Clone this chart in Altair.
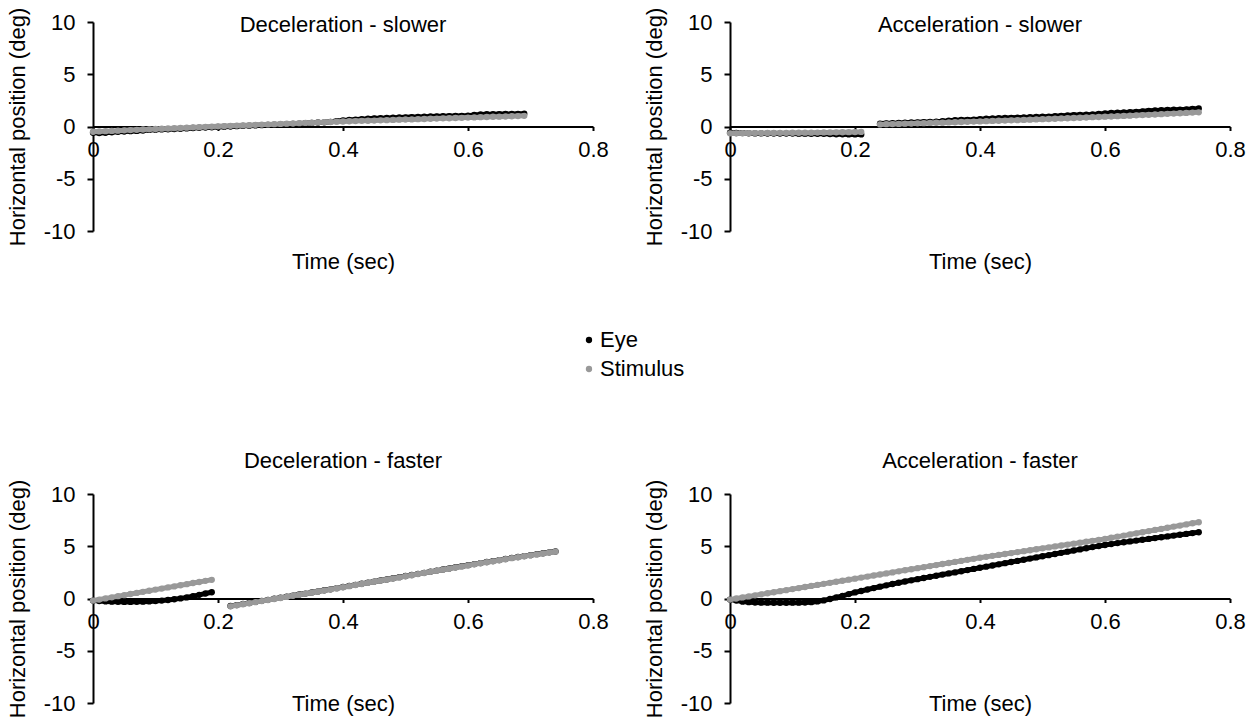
import altair as alt
import pandas as pd

FONT = "Liberation Sans"
FS = 22

# shared sampling grid (seconds)
TIME = [0.00, 0.01, 0.02, 0.03, 0.04, 0.05, 0.06, 0.07, 0.08, 0.09,
        0.10, 0.11, 0.12, 0.13, 0.14, 0.15, 0.16, 0.17, 0.18, 0.19,
        0.20, 0.21, 0.22, 0.23, 0.24, 0.25, 0.26, 0.27, 0.28, 0.29,
        0.30, 0.31, 0.32, 0.33, 0.34, 0.35, 0.36, 0.37, 0.38, 0.39,
        0.40, 0.41, 0.42, 0.43, 0.44, 0.45, 0.46, 0.47, 0.48, 0.49,
        0.50, 0.51, 0.52, 0.53, 0.54, 0.55, 0.56, 0.57, 0.58, 0.59,
        0.60, 0.61, 0.62, 0.63, 0.64, 0.65, 0.66, 0.67, 0.68, 0.69,
        0.70, 0.71, 0.72, 0.73, 0.74, 0.75]

N = None

# Deceleration - slower
DS_EYE = [-0.60, -0.62, -0.60, -0.55, -0.50, -0.48, -0.45, -0.42, -0.38, -0.33,
          -0.30, -0.28, -0.27, -0.25, -0.22, -0.18, -0.14, -0.12, -0.10, -0.08,
          -0.05, -0.02, 0.00, 0.03, 0.06, 0.08, 0.10, 0.13, 0.16, 0.18,
          0.20, 0.22, 0.25, 0.28, 0.32, 0.35, 0.38, 0.40, 0.45, 0.52,
          0.58, 0.62, 0.66, 0.70, 0.74, 0.78, 0.80, 0.82, 0.84, 0.86,
          0.88, 0.90, 0.92, 0.94, 0.96, 0.97, 0.98, 1.00, 1.01, 1.02,
          1.04, 1.10, 1.15, 1.17, 1.18, 1.19, 1.20, 1.20, 1.21, 1.22,
          N, N, N, N, N, N]
DS_STIM = [-0.50, -0.47, -0.45, -0.42, -0.40, -0.37, -0.34, -0.32, -0.29, -0.27,
           -0.24, -0.21, -0.19, -0.16, -0.14, -0.11, -0.08, -0.06, -0.03, -0.01,
           0.02, 0.04, 0.06, 0.09, 0.11, 0.13, 0.16, 0.18, 0.20, 0.22,
           0.25, 0.27, 0.29, 0.32, 0.34, 0.36, 0.39, 0.41, 0.43, 0.46,
           0.48, 0.50, 0.52, 0.54, 0.55, 0.57, 0.59, 0.61, 0.63, 0.65,
           0.67, 0.68, 0.70, 0.72, 0.74, 0.76, 0.78, 0.79, 0.81, 0.83,
           0.85, 0.87, 0.89, 0.91, 0.93, 0.94, 0.96, 0.98, 1.00, 1.02,
           N, N, N, N, N, N]

# Acceleration - slower
AS_EYE = [-0.60, -0.62, -0.63, -0.65, -0.66, -0.66, -0.67, -0.67, -0.68, -0.68,
          -0.68, -0.69, -0.69, -0.70, -0.70, -0.70, -0.72, -0.74, -0.75, -0.76,
          -0.76, -0.76, N, N, 0.28, 0.30, 0.32, 0.34, 0.36, 0.38,
          0.40, 0.42, 0.44, 0.46, 0.50, 0.55, 0.60, 0.62, 0.64, 0.66,
          0.70, 0.74, 0.77, 0.79, 0.81, 0.83, 0.85, 0.87, 0.89, 0.91,
          0.93, 0.95, 0.98, 1.02, 1.06, 1.09, 1.11, 1.13, 1.16, 1.20,
          1.25, 1.29, 1.32, 1.35, 1.37, 1.40, 1.45, 1.50, 1.53, 1.56,
          1.58, 1.60, 1.62, 1.64, 1.68, 1.72]
AS_STIM = [-0.65, -0.65, -0.64, -0.64, -0.63, -0.63, -0.62, -0.62, -0.61, -0.61,
           -0.60, -0.60, -0.59, -0.59, -0.58, -0.57, -0.57, -0.56, -0.55, -0.54,
           -0.53, -0.52, N, N, 0.20, 0.22, 0.23, 0.25, 0.27, 0.28,
           0.30, 0.32, 0.34, 0.36, 0.37, 0.39, 0.41, 0.43, 0.45, 0.47,
           0.49, 0.51, 0.53, 0.55, 0.57, 0.59, 0.61, 0.63, 0.65, 0.68,
           0.70, 0.72, 0.74, 0.77, 0.79, 0.81, 0.84, 0.86, 0.89, 0.91,
           0.94, 0.96, 0.99, 1.01, 1.04, 1.07, 1.09, 1.12, 1.15, 1.18,
           1.21, 1.24, 1.27, 1.30, 1.33, 1.36]

# Deceleration - faster
DF_EYE = [-0.20, -0.25, -0.28, -0.30, -0.32, -0.33, -0.33, -0.32, -0.30, -0.28,
          -0.25, -0.20, -0.14, -0.07, 0.01, 0.10, 0.22, 0.35, 0.48, 0.60,
          N, N, -0.72, -0.63, -0.52, -0.43, -0.33, -0.22, -0.13, -0.02,
          0.08, 0.17, 0.28, 0.38, 0.47, 0.58, 0.68, 0.79, 0.88, 0.99,
          1.10, 1.20, 1.31, 1.41, 1.52, 1.62, 1.73, 1.83, 1.94, 2.04,
          2.15, 2.25, 2.36, 2.46, 2.57, 2.67, 2.78, 2.88, 2.99, 3.09,
          3.19, 3.29, 3.39, 3.49, 3.58, 3.68, 3.78, 3.88, 3.97, 4.06,
          4.15, 4.24, 4.33, 4.42, 4.50, N]
DF_STIM = [-0.20, -0.10, 0.01, 0.11, 0.22, 0.32, 0.43, 0.53, 0.64, 0.74,
           0.85, 0.95, 1.06, 1.16, 1.27, 1.37, 1.48, 1.58, 1.69, 1.79,
           N, N, -0.75, -0.65, -0.55, -0.45, -0.35, -0.25, -0.15, -0.05,
           0.05, 0.15, 0.26, 0.36, 0.46, 0.56, 0.67, 0.77, 0.87, 0.98,
           1.08, 1.18, 1.29, 1.39, 1.50, 1.60, 1.71, 1.81, 1.92, 2.02,
           2.13, 2.23, 2.34, 2.44, 2.55, 2.65, 2.76, 2.86, 2.97, 3.07,
           3.17, 3.27, 3.37, 3.47, 3.56, 3.66, 3.76, 3.86, 3.95, 4.04,
           4.13, 4.22, 4.31, 4.40, 4.48, N]

# Acceleration - faster
AF_EYE = [-0.10, -0.20, -0.30, -0.35, -0.38, -0.40, -0.40, -0.41, -0.41, -0.41,
          -0.40, -0.40, -0.38, -0.35, -0.28, -0.18, -0.05, 0.10, 0.25, 0.42,
          0.58, 0.72, 0.86, 1.00, 1.13, 1.26, 1.39, 1.51, 1.63, 1.74,
          1.85, 1.96, 2.07, 2.18, 2.29, 2.40, 2.50, 2.61, 2.72, 2.83,
          2.94, 3.05, 3.16, 3.27, 3.38, 3.49, 3.60, 3.71, 3.82, 3.93,
          4.04, 4.15, 4.26, 4.37, 4.48, 4.59, 4.70, 4.81, 4.92, 5.02,
          5.12, 5.21, 5.30, 5.38, 5.46, 5.54, 5.62, 5.70, 5.78, 5.86,
          5.94, 6.02, 6.10, 6.18, 6.26, 6.34]
AF_STIM = [-0.10, 0.00, 0.10, 0.20, 0.30, 0.40, 0.50, 0.60, 0.70, 0.80,
           0.90, 1.00, 1.10, 1.20, 1.30, 1.40, 1.50, 1.60, 1.70, 1.80,
           1.90, 2.00, 2.10, 2.20, 2.30, 2.40, 2.50, 2.60, 2.70, 2.80,
           2.90, 3.00, 3.10, 3.20, 3.30, 3.40, 3.50, 3.60, 3.70, 3.80,
           3.90, 3.99, 4.08, 4.17, 4.26, 4.35, 4.44, 4.53, 4.62, 4.71,
           4.80, 4.89, 4.98, 5.07, 5.16, 5.25, 5.34, 5.43, 5.52, 5.61,
           5.70, 5.81, 5.92, 6.02, 6.13, 6.24, 6.34, 6.45, 6.56, 6.66,
           6.77, 6.88, 6.98, 7.09, 7.20, 7.30]

SERIES = ["Eye", "Stimulus"]
COLORS = ["#000000", "#999999"]
X_TICKS = [0, 0.2, 0.4, 0.6, 0.8]
Y_TICKS = [-10, -5, 0, 5, 10]

W, H = 500, 209


def frame(eye, stim):
    rows = []
    for name, vals in ((SERIES[0], eye), (SERIES[1], stim)):
        seg = 0
        prev_missing = False
        for t, v in zip(TIME, vals):
            if v is None:
                prev_missing = True
                continue
            if prev_missing:
                seg += 1
                prev_missing = False
            rows.append({"t": t, "pos": v, "series": name, "seg": f"{name}{seg}"})
    return pd.DataFrame(rows)


def x_enc(xtitle_y):
    return alt.X("t:Q", scale=alt.Scale(domain=[0, 0.8], nice=False, zero=False),
                 axis=alt.Axis(values=X_TICKS, format=".1~f", offset=-H / 2,
                               labelFlush=False, grid=False, tickSize=4,
                               labelPadding=9, title="Time (sec)",
                               titleY=xtitle_y, titleBaseline="middle"))


def y_enc():
    return alt.Y("pos:Q", scale=alt.Scale(domain=[-10, 10], nice=False),
                 axis=alt.Axis(values=Y_TICKS, labelExpr="'' + datum.value",
                               labelFlush=False, grid=False,
                               tickSize=6, labelPadding=12,
                               title="Horizontal position (deg)", titlePadding=14))


def panel(title, eye, stim, title_dy, xtitle_y):
    df = frame(eye, stim)
    layers = []
    for name, col in zip(SERIES, COLORS):
        base = alt.Chart(df).transform_filter(alt.datum.series == name)
        line = base.mark_line(strokeWidth=5, strokeCap="round", color=col).encode(
            x=x_enc(xtitle_y), y=y_enc(),
            detail="seg:N",
        )
        dots = base.mark_circle(size=40, opacity=1).encode(
            x=x_enc(xtitle_y), y=y_enc(),
            color=alt.Color("series:N", scale=alt.Scale(domain=SERIES, range=COLORS),
                            legend=alt.Legend(orient="none", legendX=485, legendY=307,
                                              title=None, symbolType="circle",
                                              symbolSize=40, labelFontSize=FS,
                                              labelFont=FONT, labelColor="black",
                                              rowPadding=7, labelOffset=0,
                                              symbolStrokeWidth=0)),
        )
        layers += [line, dots]
    return alt.layer(*layers).properties(
        width=W, height=H,
        title=alt.TitleParams(title, fontSize=FS, font=FONT, fontWeight="normal",
                              color="black", anchor="middle", frame="group",
                              baseline="middle", offset=0, dy=title_dy),
    )


p1 = panel("Deceleration - slower", DS_EYE, DS_STIM, 40, 135)
p2 = panel("Acceleration - slower", AS_EYE, AS_STIM, 40, 135)
p3 = panel("Deceleration - faster", DF_EYE, DF_STIM, 4, 105)
p4 = panel("Acceleration - faster", AF_EYE, AF_STIM, 4, 105)

chart = alt.concat(
    p1, p2, p3, p4, columns=2,
    spacing={"row": 263, "column": 137},
    bounds="flush",
).resolve_scale(color="shared").resolve_legend(color="shared").properties(
    padding={"left": 6, "top": 7, "right": 2, "bottom": 2},
    background="white",
).configure_axis(
    labelFont=FONT, titleFont=FONT, labelFontSize=FS, titleFontSize=FS,
    labelColor="black", titleColor="black", titleFontWeight="normal",
    domainColor="black", tickColor="black", domainWidth=2, tickWidth=2,
).configure_view(stroke=None)

chart.save("out.html", embed_options={"renderer": "svg", "actions": False})
